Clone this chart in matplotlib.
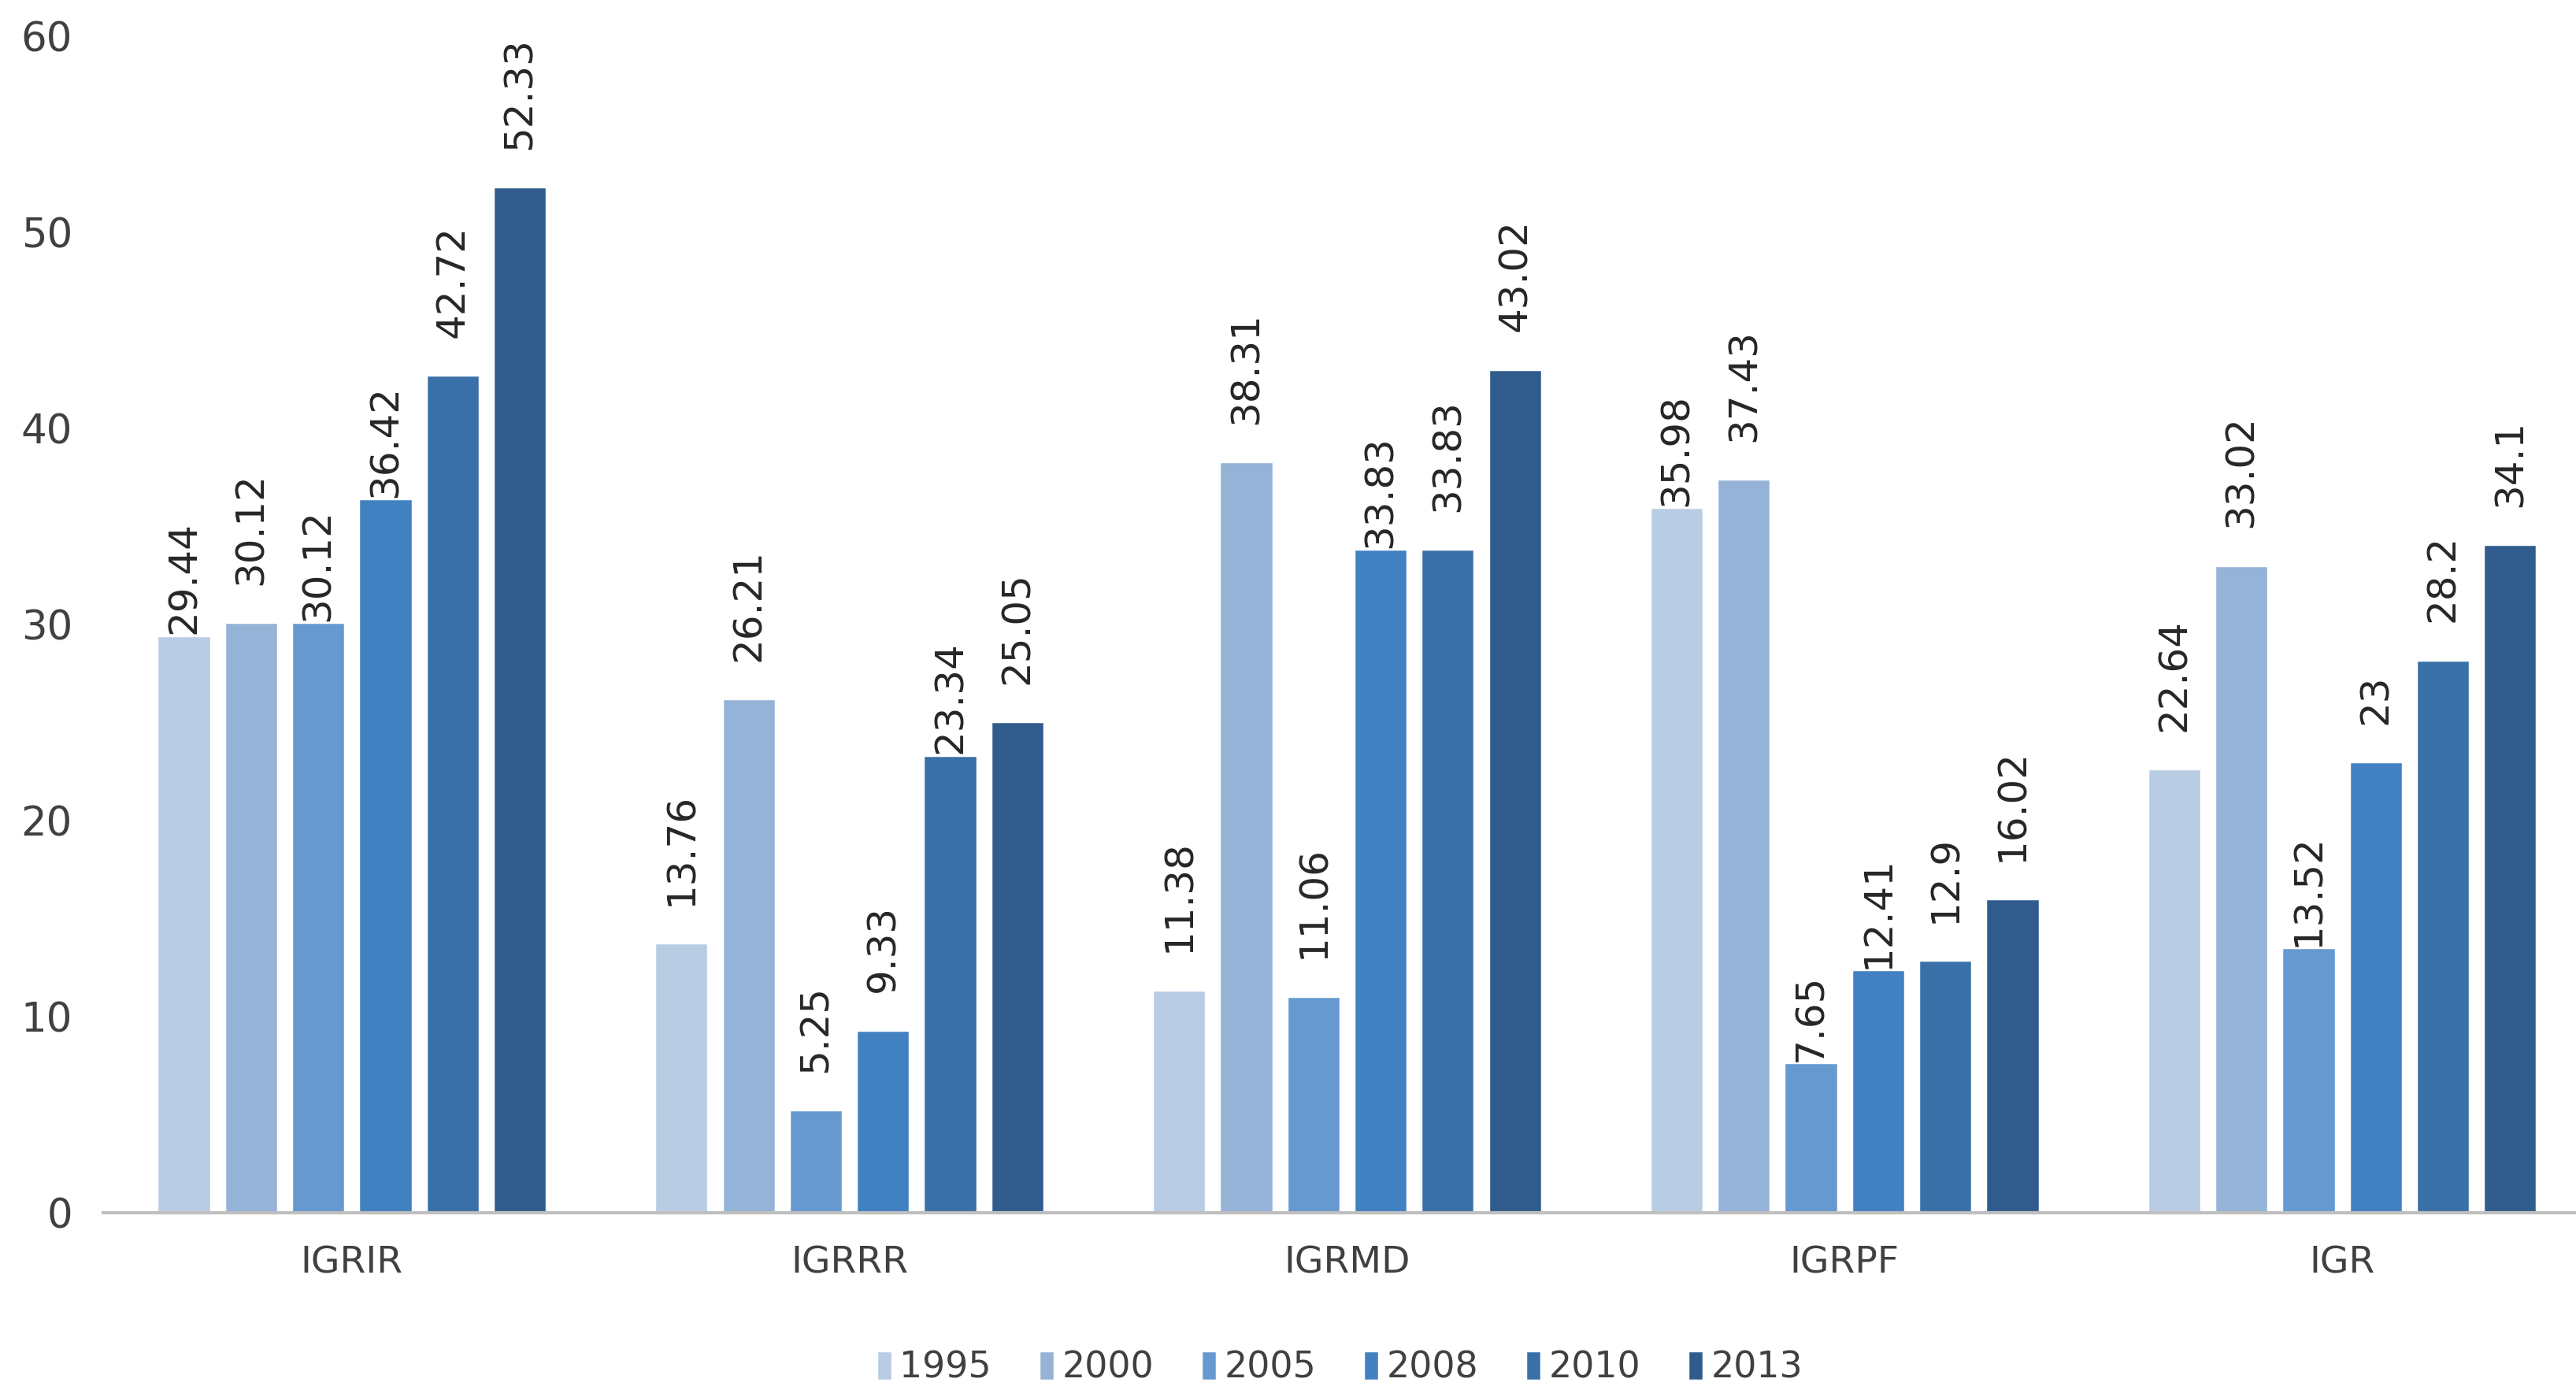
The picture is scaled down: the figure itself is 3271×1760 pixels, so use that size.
import matplotlib
matplotlib.use('Agg')
import matplotlib.pyplot as plt
import numpy as np

### data
categories = ['IGRIR', 'IGRRR', 'IGRMD', 'IGRPF', 'IGR']
years = ['1995', '2000', '2005', '2008', '2010', '2013']
v1995 = [29.44, 13.76, 11.38, 35.98, 22.64]
v2000 = [30.12, 26.21, 38.31, 37.43, 33.02]
v2005 = [30.12, 5.25, 11.06, 7.65, 13.52]
v2008 = [36.42, 9.33, 33.83, 12.41, 23.00]
v2010 = [42.72, 23.34, 33.83, 12.90, 28.20]
v2013 = [52.33, 25.05, 43.02, 16.02, 34.10]
labels = [['29.44', '13.76', '11.38', '35.98', '22.64'],
          ['30.12', '26.21', '38.31', '37.43', '33.02'],
          ['30.12', '5.25', '11.06', '7.65', '13.52'],
          ['36.42', '9.33', '33.83', '12.41', '23'],
          ['42.72', '23.34', '33.83', '12.9', '28.2'],
          ['52.33', '25.05', '43.02', '16.02', '34.1']]

### style
colors = ['#B8CCE4', '#95B3D7', '#6699D0', '#4181C2', '#3A70A8', '#2F5C8D']
# labels that sit right on the bar top (series idx, category idx)
tight = {(0, 0), (2, 0), (3, 0), (4, 1), (3, 2), (0, 3), (2, 3), (3, 3), (2, 4)}

fig = plt.figure(figsize=(32.71, 17.6), dpi=100)
ax = fig.add_axes([0.040, 0.125, 0.960, 0.849])

series = [v1995, v2000, v2005, v2008, v2010, v2013]
x = np.arange(len(categories))
pitch = 0.135
width = 0.108
for i, (vals, yr) in enumerate(zip(series, years)):
    xs = x + (i - 2.5) * pitch
    ax.bar(xs, vals, width, color=colors[i], edgecolor='white', linewidth=2.5, label=yr, zorder=2)
    for j in range(len(categories)):
        off = 1 if (i, j) in tight else 34
        ax.annotate(labels[i][j], (xs[j], vals[j]), xytext=(0, off), textcoords='offset points',
                    rotation=90, ha='center', va='bottom', fontsize=36,
                    family=['Liberation Sans Narrow', 'DejaVu Sans'], color='#262626')

ax.set_xlim(-0.5, 4.47)
ax.set_ylim(0, 60)
ax.set_yticks(np.arange(0, 61, 10))
ax.set_xticks(x)
ax.set_xticklabels(categories)
for s in ['top', 'right', 'left']:
    ax.spines[s].set_visible(False)
ax.spines['bottom'].set_color('#BFBFBF')
ax.spines['bottom'].set_linewidth(3)
ax.spines['bottom'].set_zorder(3)
ax.tick_params(axis='y', length=0, pad=28, labelsize=37, labelcolor='#404040')
ax.tick_params(axis='x', length=0, pad=30, labelsize=34, labelcolor='#404040')

leg = ax.legend(loc='center', bbox_to_anchor=(0.5, -0.132), ncol=6, frameon=False,
                fontsize=33, handlelength=0.45, handleheight=0.9, handletextpad=0.2,
                columnspacing=1.3, labelcolor='#404040')

plt.savefig('out.png', dpi=100)
